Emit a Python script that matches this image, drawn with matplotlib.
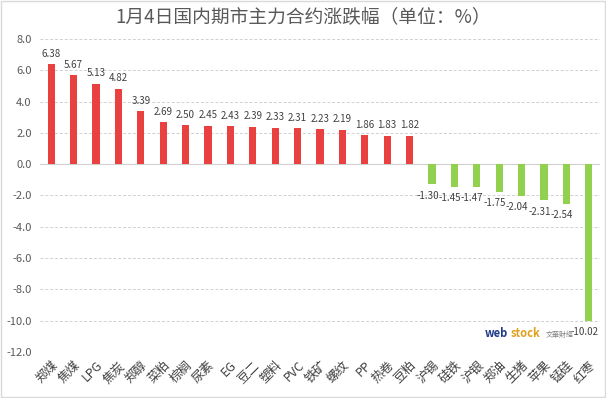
import matplotlib.pyplot as plt
import numpy as np

plt.rcParams['font.family'] = ['Noto Sans CJK SC', 'DejaVu Sans']

names = ['郑煤', '焦煤', 'LPG', '焦炭', '郑醇', '菜粕', '棕榈', '尿素', 'EG', '豆二',
         '塑料', 'PVC', '铁矿', '螺纹', 'PP', '热卷', '豆粕', '沪锡', '硅铁', '沪银',
         '郑油', '生猪', '苹果', '锰硅', '红枣']
changes = [6.38, 5.67, 5.13, 4.82, 3.39, 2.69, 2.50, 2.45, 2.43, 2.39,
           2.33, 2.31, 2.23, 2.19, 1.86, 1.83, 1.82, -1.30, -1.45, -1.47,
           -1.75, -2.04, -2.31, -2.54, -10.02]

fig = plt.figure(figsize=(6.06, 3.98), dpi=100)
ax = fig.add_axes([0.066, 0.116, 0.924, 0.786])

x = np.arange(len(names))
colors = ['#E8413F' if v > 0 else '#92D050' for v in changes]
ax.bar(x, changes, width=0.32, color=colors, zorder=3)

for i, v in enumerate(changes):
    if v > 0:
        ax.text(i, v + 0.35, '%.2f' % v, ha='center', va='bottom', fontsize=7, color='#404040')
    else:
        ax.text(i - 0.2, v - 0.4, '%.2f' % v, ha='center', va='top', fontsize=7, color='#404040')

ax.set_xlim(-0.5, len(names) - 0.5)
ax.set_ylim(-12, 8)
ax.set_yticks(np.arange(-12, 9, 2))
ax.set_yticklabels(['%.1f' % t for t in np.arange(-12, 9, 2)], fontsize=8, color='#595959')
ax.yaxis.grid(True, linestyle=(0, (3, 2)), color='#D0D0D0', linewidth=0.7, zorder=0)
ax.axhline(0, color='#D0D0D0', linewidth=0.8, zorder=2)

ax.set_xticks(x)
ax.set_xticklabels(names, rotation=45, ha='right', rotation_mode='anchor', fontsize=9, color='#404040')
ax.tick_params(axis='x', length=0, pad=5)
ax.tick_params(axis='y', length=0, pad=6)
for s in ax.spines.values():
    s.set_visible(False)

fig.text(0.5, 0.955, '1月4日国内期市主力合约涨跌幅（单位：%）', ha='center', va='center',
         fontsize=13.5, color='#595959')

# watermark
fig.text(0.800, 0.163, 'web', fontsize=8, color='#1F3C88', fontweight='bold', ha='left', va='center')
fig.text(0.843, 0.163, 'stock', fontsize=8, color='#E0A020', fontweight='bold', ha='left', va='center')
fig.text(0.900, 0.158, '文華財經', fontsize=5, color='#808080', ha='left', va='center')

border = plt.Rectangle((0.002, 0.002), 0.996, 0.996, transform=fig.transFigure,
                       fill=False, edgecolor='#D9D9D9', linewidth=1)
fig.patches.append(border)

fig.savefig('out.png', dpi=100)
